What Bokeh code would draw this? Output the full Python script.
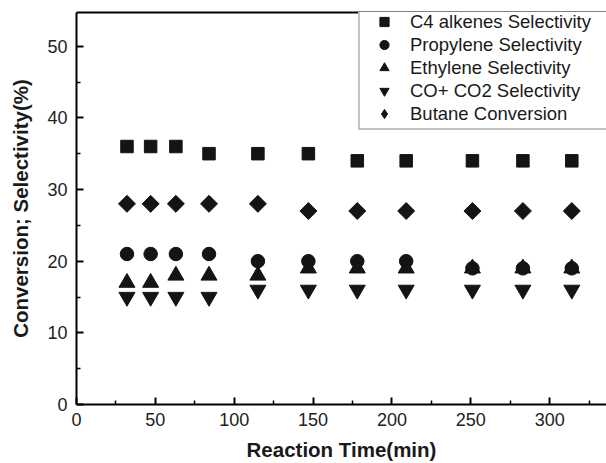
from bokeh.plotting import figure
from bokeh.models import Range1d, LinearAxis, FixedTicker, Legend, LegendItem
from bokeh.embed import file_html
from bokeh.resources import INLINE
import numpy as np

time_min = [32, 47, 63, 84, 115, 147, 178, 209, 251, 283, 314]
c4_alkenes = [36, 36, 36, 35, 35, 35, 34, 34, 34, 34, 34]
propylene = [21, 21, 21, 21, 20, 20, 20, 20, 19, 19, 19]
ethylene = [17, 17, 18, 18, 18, 19, 19, 19, 19, 19, 19]
co_co2 = [15, 15, 15, 15, 16, 16, 16, 16, 16, 16, 16]
butane_conv = [28, 28, 28, 28, 28, 27, 27, 27, 27, 27, 27]

x_ticks = [0, 50, 100, 150, 200, 250, 300]
y_ticks = [0, 10, 20, 30, 40, 50]

FONT = "Liberation Sans"
INK = "#141414"

p = figure(width=606, height=463, output_backend="svg", toolbar_location=None,
           x_range=Range1d(0, 336), y_range=Range1d(0, 54.7),
           min_border_left=76, min_border_right=0, min_border_top=12, min_border_bottom=58)
p.outline_line_color = None
p.xgrid.visible = False
p.ygrid.visible = False
p.background_fill_color = "white"
p.border_fill_color = "white"

for ax in (p.xaxis[0], p.yaxis[0]):
    ax.axis_line_width = 2
    ax.axis_line_color = "black"
    ax.major_tick_in = 7
    ax.major_tick_out = 0
    ax.minor_tick_in = 4
    ax.minor_tick_out = 0
    ax.major_tick_line_width = 2
    ax.minor_tick_line_width = 1.5
    ax.major_tick_line_color = "black"
    ax.minor_tick_line_color = "black"
    ax.major_label_text_font = FONT
    ax.major_label_text_font_size = "18px"
    ax.major_label_text_color = "#222222"
    ax.axis_label_text_font = FONT
    ax.axis_label_text_font_size = "20.5px"
    ax.axis_label_text_font_style = "bold"
    ax.axis_label_text_color = "#1a1a1a"

p.xaxis[0].ticker = FixedTicker(ticks=x_ticks, minor_ticks=[25, 75, 125, 175, 225, 275, 325])
p.yaxis[0].ticker = FixedTicker(ticks=y_ticks, minor_ticks=[5, 15, 25, 35, 45])
p.xaxis[0].axis_label = "Reaction Time(min)"
p.yaxis[0].axis_label = "Conversion; Selectivity(%)"
p.xaxis[0].major_label_standoff = 8
p.xaxis[0].axis_label_standoff = 9
p.yaxis[0].major_label_standoff = 9
p.yaxis[0].axis_label_standoff = 12

top = LinearAxis(ticker=FixedTicker(ticks=[]), axis_line_width=2, axis_line_color="black",
                 major_label_text_font_size="0px", major_tick_in=0, major_tick_out=0,
                 minor_tick_in=0, minor_tick_out=0)
p.add_layout(top, "above")

r1 = p.scatter(time_min, c4_alkenes, marker="square", size=12.5, color=INK)
r2 = p.scatter(time_min, propylene, marker="circle", size=13.5, color=INK)
r3 = p.scatter(time_min, ethylene, marker="triangle", size=16, color=INK)
r4 = p.scatter(time_min, co_co2, marker="inverted_triangle", size=16, color=INK)
# diamond drawn underneath (used for the legend glyph), covered by the rotated square
r5_leg = p.scatter(time_min, butane_conv, marker="diamond", size=15, color=INK)
r5 = p.scatter(time_min, butane_conv, marker="square", size=12, angle=np.pi / 4, color=INK)

legend = Legend(items=[
    LegendItem(label="C4 alkenes Selectivity", renderers=[r1]),
    LegendItem(label="Propylene Selectivity", renderers=[r2]),
    LegendItem(label="Ethylene Selectivity", renderers=[r3]),
    LegendItem(label="CO+ CO2 Selectivity", renderers=[r4]),
    LegendItem(label="Butane Conversion", renderers=[r5_leg]),
], location=(282, 274))
legend.padding = 3
legend.glyph_width = 42
legend.glyph_height = 23
legend.label_height = 23
legend.spacing = 0
legend.label_standoff = 5
legend.label_width = 196
legend.margin = 0
legend.label_text_font = FONT
legend.label_text_font_size = "18.5px"
legend.label_text_color = "#1a1a1a"
legend.border_line_color = "#888888"
legend.border_line_width = 2
legend.background_fill_color = "white"
legend.background_fill_alpha = 1
p.add_layout(legend, "center")

open("out.html", "w").write(file_html(p, INLINE))
